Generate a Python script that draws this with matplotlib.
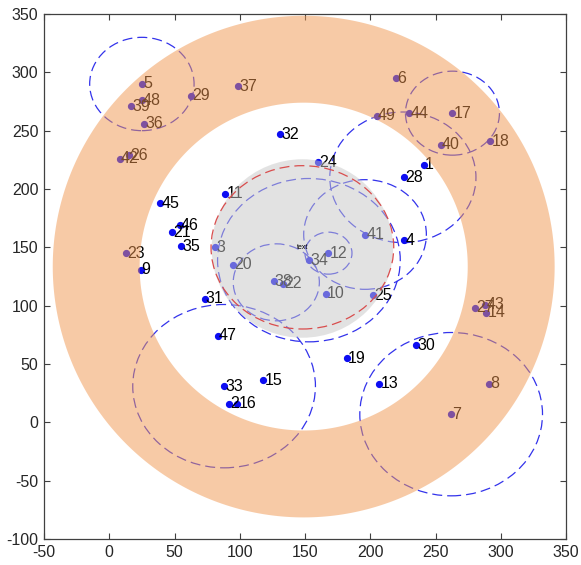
import numpy as np
import matplotlib
matplotlib.use('Agg')
import matplotlib.pyplot as plt
from matplotlib.patches import Circle, Ellipse, PathPatch
from matplotlib.path import Path

plt.rcParams['font.family'] = ['Liberation Sans', 'DejaVu Sans']
plt.rcParams['axes.unicode_minus'] = False

# node positions, numbered 1..49
node_x = [241, 92, 81, 226, 25, 220, 262, 291, 24, 166,
          89, 168, 207, 289, 118, 98, 263, 292, 182, 95,
          48, 133, 13, 160, 202, 15, 280, 226, 63, 235,
          73, 131, 88, 153, 55, 27, 99, 126, 17, 254,
          196, 8, 288, 230, 39, 54, 83, 25, 205]
node_y = [221, 16, 150, 156, 290, 295, 7, 33, 131, 110,
          196, 145, 33, 94, 36, 16, 265, 241, 55, 135,
          163, 119, 145, 223, 109, 229, 98, 210, 280, 66,
          106, 247, 31, 139, 151, 256, 288, 121, 271, 238,
          161, 226, 101, 265, 188, 169, 74, 276, 263]
node_ids = list(range(1, 50))

# sink
sink_x, sink_y = 148, 150
sink_range = 70

# dashed range circles (centre x, centre y, radius)
circ_x = [25, 263, 225, 196, 153, 168, 128, 88, 262]
circ_y = [290, 265, 210, 161, 139, 145, 120, 31, 7]
circ_r = [40, 36, 56, 47, 70, 18, 33, 70, 70]

# shaded ring (centre, outer/inner half-widths in x and y)
ring_cx, ring_cy = 149, 133.5
ring_rx = [192.3, 125.7]
ring_ry = [215, 140.5]

# grey zone round the sink
zone_cx, zone_cy = 148, 149
zone_rx, zone_ry = 69.5, 76.5

fig = plt.figure(figsize=(5.81, 5.65), dpi=100)
ax = fig.add_axes([44 / 581, 26 / 565, 522 / 581, 525 / 565])

for cx, cy, r in zip(circ_x, circ_y, circ_r):
    ax.add_patch(Circle((cx, cy), r, fill=False, ec=(0.2, 0.2, 0.92),
                        ls=(0, (8, 4)), lw=0.9, zorder=1))

ax.plot(node_x, node_y, 'o', color=(0.05, 0.05, 0.95), ms=4.2, zorder=2)
for i, x, y in zip(node_ids, node_x, node_y):
    ax.annotate(str(i), (x, y), xytext=(0.8, 0), textcoords='offset points',
                ha='left', va='center', fontsize=11.5, color='black', zorder=3)

# ring drawn on top with transparency
t = np.linspace(0, 2 * np.pi, 361)
outer = np.column_stack([ring_cx + ring_rx[0] * np.cos(t), ring_cy + ring_ry[0] * np.sin(t)])
inner = np.column_stack([ring_cx + ring_rx[1] * np.cos(t[::-1]), ring_cy + ring_ry[1] * np.sin(t[::-1])])
verts = np.concatenate([outer, inner])
codes = [Path.MOVETO] + [Path.LINETO] * 360 + [Path.MOVETO] + [Path.LINETO] * 360
ax.add_patch(PathPatch(Path(verts, codes), fc=(0.94, 0.59, 0.31), ec='none',
                       alpha=0.5, zorder=4))

ax.add_patch(Ellipse((zone_cx, zone_cy), 2 * zone_rx, 2 * zone_ry, fc=(0.78, 0.78, 0.78),
                     ec='none', alpha=0.5, zorder=4))
ax.add_patch(Circle((sink_x, sink_y), sink_range, fill=False, ec=(0.85, 0.3, 0.3),
                    ls=(0, (8, 4)), lw=0.9, zorder=5))
ax.text(sink_x, sink_y, 'text', fontsize=5, ha='center', va='center', zorder=6)

ax.set_xlim(-50, 350)
ax.set_ylim(-100, 350)
ax.set_xticks(np.arange(-50, 351, 50))
ax.set_yticks(np.arange(-100, 351, 50))
ax.tick_params(direction='in', top=True, right=True, length=4.5, width=0.8,
               labelsize=11.5, labelcolor=(0.15, 0.15, 0.15), color=(0.25, 0.25, 0.25), pad=4)
for s in ax.spines.values():
    s.set_color((0.25, 0.25, 0.25))
    s.set_linewidth(0.9)

fig.savefig('out.png', dpi=100)
